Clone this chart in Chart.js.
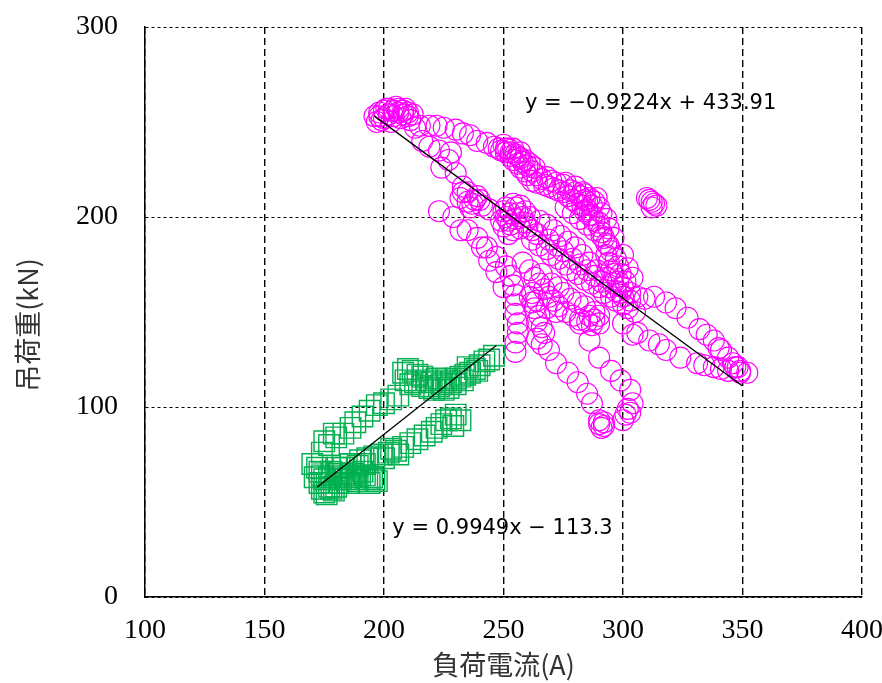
<!DOCTYPE html>
<html>
<head>
<meta charset="utf-8">
<script src="https://cdn.jsdelivr.net/npm/chart.js@4"></script>
<style>
html,body{margin:0;padding:0;background:#fff;}
#wrap{width:882px;height:683px;}
</style>
</head>
<body>
<div id="wrap"><canvas id="c" width="882" height="683"></canvas></div>
<script>
const xTicks = [100, 150, 200, 250, 300, 350, 400];
const yTicks = [0, 100, 200, 300];
const xTitle = '負荷電流(A)';
const yTitle = '吊荷重(kN)';
const eqMagenta = 'y = −0.9224x + 433.91';
const eqGreen = 'y = 0.9949x − 113.3';
const eqMagentaPos = [259, 259.5];
const eqGreenPos = [203.5, 35.8];

const magentaPoints = [
[196,253],[198,255],[200,256],[202,254],[204,256],[206,255],[208,254],[210,255],[199,251],[203,250],[207,252],[211,251],[201,257],[205,258],[209,257],[197,250],
[198,253],[200,252],[202,257],[204,253],[206,257],[208,256],[210,253],[212,254],
[215,248],[219,248],[222,248],[225,247],[230,246],[233,244],[236,243],[239,240],[243,239],[246,237],[248,236],[249,235],[251,234],[253,232],[254,230],[256,228],[257,226],[259,224],[260,222],[262,219],[264,218],[267,217],[269,216],[271,215],[273,214],[275,213],[277,211],[279,209],[281,207],[283,206],[285,204],[286,201],[288,198],[290,195],[291,192],[292,189],[294,185],
[250,238],[252,236],[255,233],[257,231],[258,229],[260,227],[262,224],[264,222],[266,220],[268,221],[270,219],[272,218],[275,217],[278,214],[280,213],[282,211],[284,209],[285,208],[287,206],[284,212],[280,216],[276,218],
[251,236],[253,234],[254,236],[256,232],[257,234],[259,230],[261,228],[263,226],
[213,247],[216,240],[219,237],[223,235],[227,230],[230,223],[233,216],[235,213],[238,209],[241,206],[244,204],[232,210],[235,208],[237,207],[239,211],[236,205],[240,209],[233,213],[228,234],[224,226],
[223,203],[229,200],[232,193],[235,193],[239,189],[241,184],[243,184],[244,177],[247,179],[247,171],[250,163],[251,174],[253,169],[254,164],[255,159],[255,154],[255,149],[256,144],[256,139],[255,134],[255,129],
[250,203],[251,200],[252,198],[253,196],[255,199],[256,202],[258,200],[259,197],[257,194],[254,193],[252,191],[260,195],[262,193],[255,205],[253,202],
[251,205],[254,207],[257,206],[259,203],[261,200],[249,198],[250,195],
[262,188],[265,185],[268,183],[270,180],[273,178],[276,175],[278,172],[281,170],[284,167],[287,165],[290,163],[292,160],[295,158],[297,156],[300,154],[302,152],[305,150],[299,160],[296,165],[293,168],[289,172],[286,176],[283,180],[280,184],[277,187],[274,190],[271,193],[268,196],[265,198],[264,191],[269,188],[272,185],[275,182],[279,178],[282,175],[285,172],[288,169],[291,166],[294,163],[297,161],[300,158],[303,156],
[276,205],[279,202],[282,199],[285,196],[288,193],[291,190],[293,186],[295,182],[297,178],[298,174],[299,170],[301,166],[290,197],[287,201],[284,203],[294,194],[296,189],[300,180],[302,173],[304,168],
[283,213],[286,210],[288,208],[290,205],[291,202],[293,199],[289,210],
[258,176],[261,172],[263,168],[265,165],[267,162],[269,158],[271,156],[273,153],[276,150],[279,148],[282,146],[285,145],[288,146],[290,148],[288,150],[286,148],[290,144],[287,143],[275,160],[278,157],[281,155],[284,153],[270,165],[273,163],[266,170],[262,160],[264,156],[268,152],[272,150],
[261,158],[263,152],[264,145],[266,142],[264,136],[266,133],[262,155],[265,148],[267,139],[269,130],[272,123],[277,118],[281,113],[285,107],[287,102],[290,93],[291,89],[292,90],[290,91],[292,92],
[282,144],[286,135],[290,126],[295,119],[299,114],[303,109],[304,102],[303,97],[300,93],[301,96],[302,99],
[296,170],[298,166],[300,163],[303,160],[306,158],[309,157],[313,158],[318,155],[322,152],[327,147],[332,141],[335,138],[338,135],[341,130],[344,126],[346,123],[349,119],[352,118],[340,131],[348,121],
[300,144],[304,138],[306,139],[311,135],[315,133],[318,130],[324,126],[331,123],[334,122],[338,121],[341,120],[344,119],[347,121],[349,118],
[310,210],[311,209],[312,208],[313,207],[314,206],[312,205],
[293,180],[294,176],[295,172]
];

const greenPoints = [
[170,70],[172,68],[173,66],[174,64],[175,62],[176,60],[177,58],[178,57],[179,56],[180,58],[181,60],[182,62],[183,64],[184,62],[185,60],[186,63],[187,65],[188,63],[189,61],[190,64],[191,66],[192,64],[193,62],[194,60],[195,63],[173,60],[174,57],[175,55],[176,54],[171,63],[178,66],[180,68],[183,68],[186,70],[189,69],[192,70],[196,62],[197,61],[177,63],[181,65],
[174,76],[175,82],[177,80],[179,86],[180,84],[183,86],[186,89],[188,92],[191,95],[194,98],[197,101],[200,102],[203,104],[206,106],
[208,118],[210,120],[212,119],[214,117],[216,116],[218,114],[220,113],[222,115],[224,112],[226,114],[228,113],[230,115],[232,116],[234,117],[236,118],[238,120],[240,122],[242,124],[244,125],[246,127],[213,113],[216,111],[219,110],[221,109],[223,111],[225,109],[227,110],[209,114],[211,112],[230,112],[233,114],[239,119],[235,121],
[186,70],[190,72],[193,73],[196,74],[199,75],[202,76],[205,77],[208,79],[211,81],[214,83],[217,85],[220,87],[222,89],[224,91],[226,93],[228,94],[230,96],[232,93],[229,90],[200,73],[203,78],[206,75]
];

const fitMagenta = [[196,253.1],[350,111.1]];
const fitGreen = [[172,57.8],[247,132.4]];

const toXY = arr => arr.map(p => ({x: p[0], y: p[1]}));

const textPlugin = {
  id: 'texts',
  afterDatasetsDraw(chart) {
    const ctx = chart.ctx;
    const sx = chart.scales.x, sy = chart.scales.y;
    ctx.save();
    ctx.fillStyle = '#000';
    ctx.font = '21px "DejaVu Sans", sans-serif';
    ctx.textAlign = 'left';
    ctx.textBaseline = 'middle';
    ctx.fillText(eqMagenta, sx.getPixelForValue(eqMagentaPos[0]), sy.getPixelForValue(eqMagentaPos[1]));
    ctx.fillText(eqGreen, sx.getPixelForValue(eqGreenPos[0]), sy.getPixelForValue(eqGreenPos[1]));
    ctx.restore();
  },
  afterDraw(chart) {
    const ctx = chart.ctx;
    ctx.save();
    ctx.fillStyle = '#333';
    ctx.font = '27px "Noto Sans CJK JP", sans-serif';
    ctx.textAlign = 'center';
    ctx.textBaseline = 'middle';
    ctx.translate(28, 325);
    ctx.rotate(-Math.PI / 2);
    ctx.fillText(yTitle, 0, 0);
    ctx.restore();
  }
};

new Chart(document.getElementById('c'), {
  type: 'scatter',
  data: {
    datasets: [
      {label: 'fitM', type: 'line', data: toXY(fitMagenta), borderColor: '#000', borderWidth: 1.3, pointRadius: 0, fill: false, order: 0},
      {label: 'fitG', type: 'line', data: toXY(fitGreen), borderColor: '#000', borderWidth: 1.3, pointRadius: 0, fill: false, order: 0},
      {label: 'magenta', data: toXY(magentaPoints), pointStyle: 'circle', pointRadius: 10.5, borderColor: '#FF00FF', backgroundColor: 'rgba(0,0,0,0)', borderWidth: 1.1, order: 2},
      {label: 'green', data: toXY(greenPoints), pointStyle: 'rect', pointRadius: 14.5, borderColor: '#00B050', backgroundColor: 'rgba(0,0,0,0)', borderWidth: 1.4, order: 1}
    ]
  },
  options: {
    responsive: false,
    animation: false,
    events: [],
    layout: {padding: {top: 27, right: 20, left: 0, bottom: 0}},
    plugins: {legend: {display: false}, tooltip: {enabled: false}},
    scales: {
      x: {
        type: 'linear', min: 100, max: 400,
        afterBuildTicks: s => { s.ticks = xTicks.map(v => ({value: v})); },
        afterFit: s => { s.height = 86; s.paddingLeft = 0; s.paddingRight = 0; },
        ticks: {color: '#000', padding: 17, font: {family: '"Liberation Serif", "Times New Roman", serif', size: 28}, maxRotation: 0},
        grid: {color: '#000', lineWidth: 1.4, drawTicks: false},
        border: {display: true, color: '#000', width: 1.5, dash: [7, 4]},
        title: {display: true, text: xTitle, color: '#333', font: {family: '"Noto Sans CJK JP", sans-serif', size: 27}, padding: {top: 0, bottom: 2}}
      },
      y: {
        type: 'linear', min: 0, max: 300,
        afterBuildTicks: s => { s.ticks = yTicks.map(v => ({value: v})); },
        afterFit: s => { s.width = 145; s.paddingTop = 0; s.paddingBottom = 0; },
        ticks: {color: '#000', padding: 27, font: {family: '"Liberation Serif", "Times New Roman", serif', size: 28}},
        grid: {color: '#000', lineWidth: 1, drawTicks: false},
        border: {display: true, color: '#000', width: 1.5, dash: [3, 3]}
      }
    }
  },
  plugins: [textPlugin]
});
</script>
</body>
</html>
